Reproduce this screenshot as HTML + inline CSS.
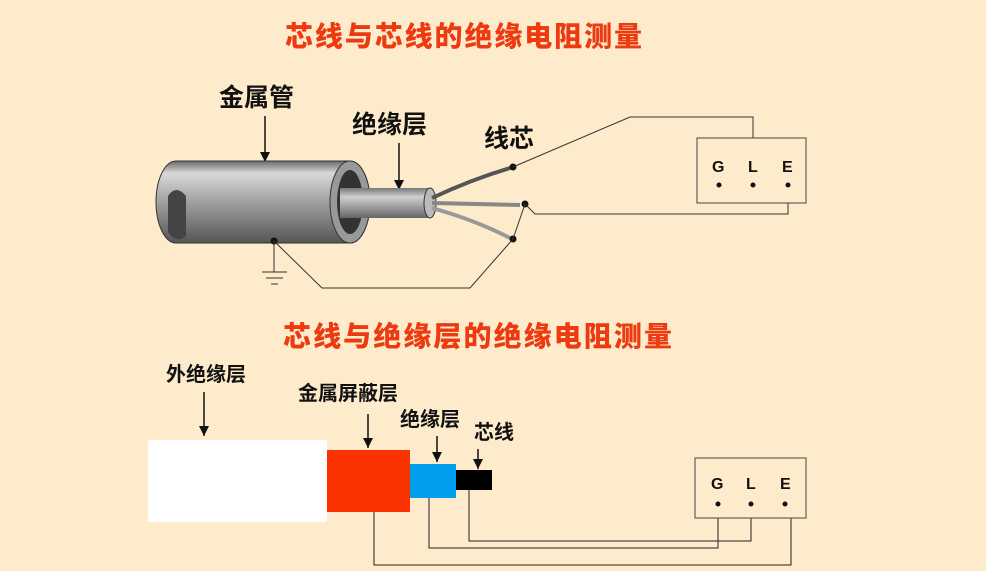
<!DOCTYPE html>
<html><head><meta charset="utf-8"><style>
html,body{margin:0;padding:0;background:#fdebcb;}
svg{display:block;}
.t{font-family:"Liberation Sans","Noto Sans CJK SC",sans-serif;font-weight:900;fill:#ee3a10;}
.l{font-family:"Liberation Sans","Noto Sans CJK SC",sans-serif;font-weight:bold;fill:#111;}
</style></head><body>
<svg width="986" height="571" viewBox="0 0 986 571" xmlns="http://www.w3.org/2000/svg">
<defs>
<linearGradient id="g1" x1="0" y1="0" x2="0" y2="1">
<stop offset="0" stop-color="#6a6a6a"/><stop offset="0.15" stop-color="#d8d8d8"/><stop offset="0.45" stop-color="#a8a8a8"/><stop offset="1" stop-color="#555"/></linearGradient>
<linearGradient id="g2" x1="0" y1="0" x2="0" y2="1">
<stop offset="0" stop-color="#777"/><stop offset="0.3" stop-color="#d0d0d0"/><stop offset="1" stop-color="#666"/></linearGradient>
<marker id="a" markerUnits="userSpaceOnUse" markerWidth="10" markerHeight="10" refX="10" refY="5" orient="auto"><path d="M0,0 L10,5 L0,10z" fill="#111"/></marker>
</defs>
<rect width="986" height="571" fill="#fdebcb"/>
<text class="t" x="285" y="46" font-size="28" textLength="357">芯线与芯线的绝缘电阻测量</text>
<text class="t" x="283" y="346" font-size="28" textLength="389">芯线与绝缘层的绝缘电阻测量</text>

<!-- top cable -->
<text class="l" x="219" y="106" font-size="25">金属管</text>
<text class="l" x="352" y="133" font-size="25">绝缘层</text>
<text class="l" x="484" y="147" font-size="25">线芯</text>
<line x1="265" y1="116" x2="265" y2="162" stroke="#111" stroke-width="1.5" marker-end="url(#a)"/>
<line x1="399" y1="143" x2="399" y2="190" stroke="#111" stroke-width="1.5" marker-end="url(#a)"/>
<path d="M176,161 L350,161 A20,41 0 0 1 350,243 L176,243 A20,41 0 0 1 176,161z" fill="url(#g1)" stroke="#333"/>
<path d="M168,196 Q176,184 186,196 L186,236 Q176,244 168,232z" fill="#444"/>
<ellipse cx="350" cy="202" rx="20" ry="41" fill="#999" stroke="#333"/>
<ellipse cx="350" cy="202" rx="13" ry="32" fill="#333"/>
<rect x="340" y="188" width="90" height="30" fill="url(#g2)"/>
<ellipse cx="430" cy="203" rx="6" ry="15" fill="#bbb" stroke="#333"/>
<path d="M432,198 Q470,180 510,168" stroke="#555" stroke-width="4" fill="none"/>
<path d="M432,203 L520,205" stroke="#888" stroke-width="4" fill="none"/>
<path d="M432,208 Q475,220 510,238" stroke="#999" stroke-width="4" fill="none"/>
<circle cx="513" cy="167" r="3.5" fill="#111"/>
<circle cx="525" cy="204" r="3.5" fill="#111"/>
<circle cx="513" cy="239" r="3.5" fill="#111"/>
<circle cx="274" cy="241" r="3.5" fill="#111"/>
<g stroke="#333" stroke-width="1" fill="none">
<path d="M513,167 L630,117 L753,117 L753,138"/>
<path d="M525,204 L535,214 L788,214 L788,203"/>
<path d="M525,204 L513,239 L470,288 L322,288 L274,241 L274,272"/>
<path d="M262,272 L287,272 M266,278 L283,278 M271,284 L278,284"/>
</g>
<rect x="697" y="138" width="109" height="65" fill="none" stroke="#444"/>
<text class="l" x="712" y="172" font-size="16">G</text>
<text class="l" x="748" y="172" font-size="16">L</text>
<text class="l" x="782" y="172" font-size="16">E</text>
<circle cx="719" cy="185" r="2.5" fill="#111"/><circle cx="753" cy="185" r="2.5" fill="#111"/><circle cx="788" cy="185" r="2.5" fill="#111"/>

<!-- bottom -->
<text class="l" x="166" y="381" font-size="20">外绝缘层</text>
<text class="l" x="298" y="400" font-size="20">金属屏蔽层</text>
<text class="l" x="400" y="426" font-size="20">绝缘层</text>
<text class="l" x="474" y="439" font-size="20">芯线</text>
<line x1="204" y1="392" x2="204" y2="436" stroke="#111" stroke-width="1.5" marker-end="url(#a)"/>
<line x1="368" y1="414" x2="368" y2="448" stroke="#111" stroke-width="1.5" marker-end="url(#a)"/>
<line x1="437" y1="436" x2="437" y2="462" stroke="#111" stroke-width="1.5" marker-end="url(#a)"/>
<line x1="478" y1="449" x2="478" y2="469" stroke="#111" stroke-width="1.5" marker-end="url(#a)"/>
<rect x="148" y="440" width="179" height="82" fill="#fff"/>
<rect x="327" y="450" width="83" height="62" fill="#fb3300"/>
<rect x="410" y="464" width="46" height="34" fill="#00a0ee"/>
<rect x="456" y="470" width="36" height="20" fill="#000"/>
<g stroke="#222" stroke-width="1" fill="none">
<path d="M374,512 L374,565 L791,565 L791,518"/>
<path d="M429,498 L429,548 L718,548 L718,518"/>
<path d="M469,490 L469,541 L751,541 L751,518"/>
</g>
<rect x="695" y="458" width="111" height="60" fill="none" stroke="#444"/>
<text class="l" x="711" y="489" font-size="16">G</text>
<text class="l" x="746" y="489" font-size="16">L</text>
<text class="l" x="780" y="489" font-size="16">E</text>
<circle cx="718" cy="504" r="2.5" fill="#111"/><circle cx="751" cy="504" r="2.5" fill="#111"/><circle cx="785" cy="504" r="2.5" fill="#111"/>
</svg>
</body></html>
